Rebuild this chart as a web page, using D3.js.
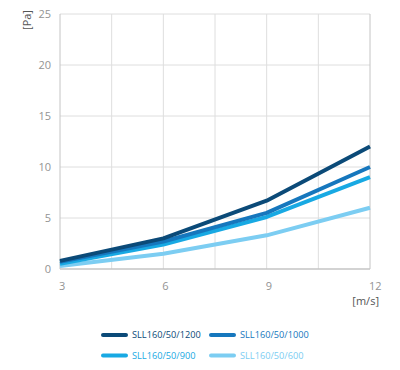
<html>
<head>
<script src="https://d3js.org/d3.v7.min.js"></script>
<style>
  body { margin: 0; background: #fff; }
  text { font-family: "Open Sans", sans-serif; }
</style>
</head>
<body>
<svg width="400" height="370"></svg>
<script>
    // data
    var speeds = [3, 6, 9, 12];
    var seriesNames = ['SLL160/50/1200', 'SLL160/50/1000', 'SLL160/50/900', 'SLL160/50/600'];
    var values1200 = [0.8, 3.0, 6.7, 12.0];
    var values1000 = [0.7, 2.7, 5.5, 10.0];
    var values900 = [0.5, 2.4, 5.1, 9.0];
    var values600 = [0.3, 1.5, 3.3, 6.0];
    var yTicks = [0, 5, 10, 15, 20, 25];
    var xTicks = [3, 6, 9, 12];
    var xGrid = [4.5, 6, 7.5, 9, 10.5, 12];

    var colors = ['#0b4a78', '#1677bd', '#18a9e3', '#7ccdf2'];
    var allValues = [values1200, values1000, values900, values600];

    var svg = d3.select('svg');

    var x = d3.scaleLinear().domain([3, 12]).range([60, 370]);
    var y = d3.scaleLinear().domain([0, 25]).range([269, 14]);

    // grid
    svg.append('g').selectAll('line')
        .data(yTicks.slice(1))
        .enter().append('line')
        .attr('x1', x(3)).attr('x2', x(12))
        .attr('y1', d => y(d)).attr('y2', d => y(d))
        .style('stroke', '#dedede');

    svg.append('g').selectAll('line')
        .data(xGrid)
        .enter().append('line')
        .attr('x1', d => x(d)).attr('x2', d => x(d))
        .attr('y1', y(0)).attr('y2', y(25))
        .style('stroke', d => d == 12 ? '#c4c4c4' : '#dedede');

    // axes lines
    svg.append('line')
        .attr('x1', x(3)).attr('x2', x(3))
        .attr('y1', y(0)).attr('y2', y(25))
        .style('stroke', '#c4c4c4');
    svg.append('line')
        .attr('x1', x(3)).attr('x2', x(12))
        .attr('y1', y(0)).attr('y2', y(0))
        .style('stroke', '#c4c4c4').style('stroke-width', 1.5);

    // tick labels
    svg.append('g').selectAll('text')
        .data(yTicks)
        .enter().append('text')
        .attr('x', 51).attr('y', d => y(d))
        .attr('dy', '0.35em')
        .attr('text-anchor', 'end')
        .style('font-size', '11px').style('fill', '#939393')
        .text(d => d);

    svg.append('g').selectAll('text')
        .data(xTicks)
        .enter().append('text')
        .attr('x', d => x(d) - 1).attr('y', 286)
        .attr('dy', '0.35em')
        .style('font-size', '11px').style('fill', '#939393')
        .text(d => d);

    // unit labels
    svg.append('text')
        .attr('transform', 'translate(27,20) rotate(-90)')
        .attr('dy', '0.35em')
        .attr('text-anchor', 'middle')
        .style('font-size', '11px').style('fill', '#555')
        .text('[Pa]');

    svg.append('text')
        .attr('x', 379).attr('y', 301)
        .attr('dy', '0.35em')
        .attr('text-anchor', 'end')
        .style('font-size', '11px').style('fill', '#555')
        .text('[m/s]');

    // lines
    var line = d3.line()
        .x((d, i) => x(speeds[i]))
        .y(d => y(d));

    svg.append('g').selectAll('path')
        .data(allValues.slice().reverse())
        .enter().append('path')
        .attr('d', d => line(d))
        .style('fill', 'none')
        .style('stroke', (d, i) => colors[3 - i])
        .style('stroke-width', 4)
        .style('stroke-linejoin', 'round');

    // legend
    var legend = svg.append('g').selectAll('g')
        .data(seriesNames)
        .enter().append('g')
        .attr('transform', (d, i) => 'translate(' + (i % 2 == 0 ? 103 : 211) + ',' + (i < 2 ? 335 : 355.5) + ')');

    legend.append('line')
        .attr('x1', 0).attr('x2', 23)
        .style('stroke', (d, i) => colors[i])
        .style('stroke-width', 4)
        .style('stroke-linecap', 'round');

    legend.append('text')
        .attr('x', 29)
        .attr('dy', '0.35em')
        .style('font-size', '9.2px')
        .style('fill', (d, i) => colors[i])
        .text(d => d);
</script>
</body>
</html>
